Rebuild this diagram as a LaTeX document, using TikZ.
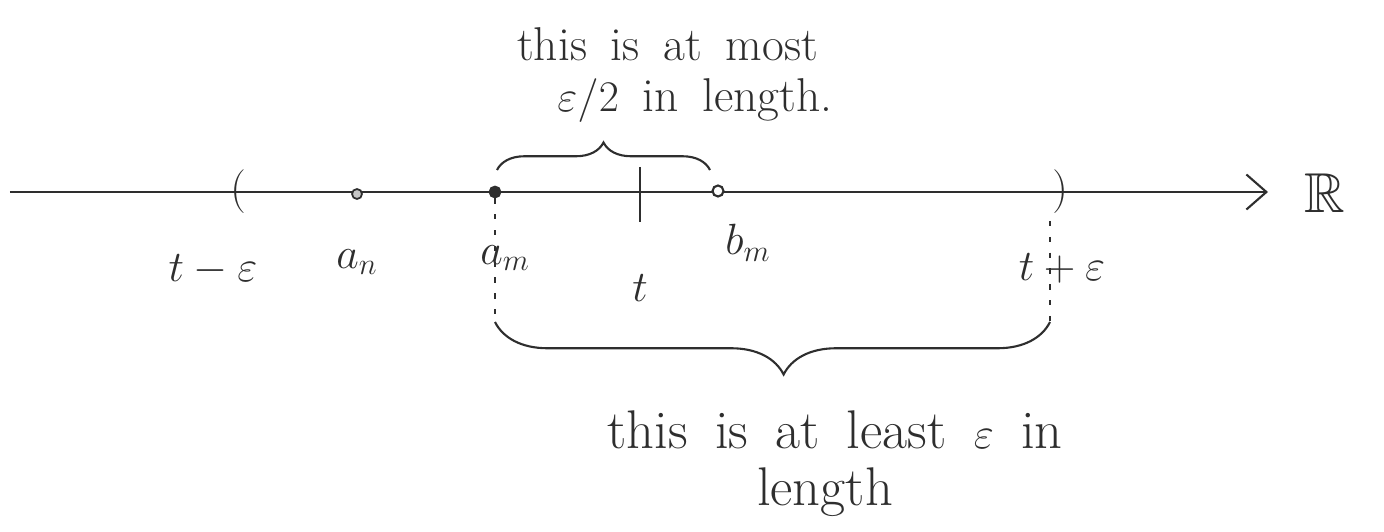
\documentclass[tikz,border=0pt]{standalone}
\usepackage{amsmath, amssymb}
\usepackage{xcolor}
\usepackage{tikz}
\usetikzlibrary{positioning, arrows.meta, calc, decorations.pathreplacing}

\colorlet{ink}{black!82}
\newcommand{\widesp}{\spaceskip=0.5em plus 0.1em\relax}

\begin{document}
\begin{tikzpicture}[
  ink/.style={draw=ink, text=ink},
  axis/.style={ink, line width=1.2pt, -{Straight Barb[length=4mm, width=7mm, line width=1.2pt]}},
  dotg/.style={circle, draw=ink, line width=1pt, fill=gray!45, minimum size=2mm, inner sep=0pt},
  dotf/.style={circle, draw=ink, line width=1pt, fill=ink, minimum size=2.2mm, inner sep=0pt},
  doto/.style={circle, draw=ink, line width=1.2pt, fill=white, minimum size=2.2mm, inner sep=0pt},
  lbl/.style={text=ink, font=\fontsize{26}{30}\selectfont},
  note/.style={text=ink, font=\fontsize{31}{34}\selectfont, inner sep=0pt, execute at begin node=\widesp},
  brace/.style={ink, line width=1.2pt, decorate, decoration={brace, amplitude=#1}},
  guide/.style={ink, line width=0.6pt, dash pattern=on 3pt off 6pt}
]
  \useasboundingbox (0,0) rectangle (27.68,10.62);

  % the real line
  \coordinate (start) at (0.2,6.78);
  \coordinate (tip) at (25.36,6.78);
  \draw[axis] (start) -- (tip);
  \node[lbl, font=\fontsize{32}{36}\selectfont] (R) at (26.5,6.76) {$\mathbb{R}$};

  % interval ends
  \node[lbl] (lo) at (4.76,6.78) {$($};
  \node[lbl] (hi) at (21.2,6.78) {$)$};
  \node[lbl] (loL) at (4.26,5.22) {$t-\varepsilon$};
  \node[lbl] (hiL) at (21.24,5.26) {$t+\varepsilon$};

  % points on the line
  \node[dotg] (an) at (7.14,6.74) {};
  \node[dotf] (am) at (9.9,6.78) {};
  \node[doto] (bm) at (14.36,6.8) {};
  \coordinate (ttop) at (12.8,7.28);
  \coordinate (tbot) at (12.8,6.18);
  \draw[ink, line width=1.4pt] (ttop) -- (tbot);

  \node[lbl] (anL) at (7.14,5.38) {$a_n$};
  \node[lbl] (amL) at (10.1,5.46) {$a_m$};
  \node[lbl] (tL) at (12.8,4.86) {$t$};
  \node[lbl] (bmL) at (14.96,5.76) {$b_m$};

  % short brace
  \coordinate (ub1) at (9.94,7.22);
  \coordinate (ub2) at (14.2,7.22);
  \draw[brace=0.55cm] (ub1) -- (ub2);
  \node[note, font=\fontsize{27}{30}\selectfont] (most1) at (13.35,9.74) {this is at most};
  \node[note, font=\fontsize{27}{30}\selectfont] (most2) at (13.9,8.6) {$\varepsilon/2$ in length.};

  % long brace
  \coordinate (lb1) at (21.0,4.18);
  \coordinate (lb2) at (9.9,4.18);
  \coordinate (hib) at (21.0,6.2);
  \draw[guide] (am) -- (lb2);
  \draw[guide] (hib) -- (lb1);
  \draw[brace=1.05cm, decoration={aspect=0.48}] (lb1) -- (lb2);
  \node[note] (least1) at (16.7,2.02) {this is at least $\varepsilon$ in};
  \node[note] (least2) at (16.5,0.78) {length};
\end{tikzpicture}
\end{document}
